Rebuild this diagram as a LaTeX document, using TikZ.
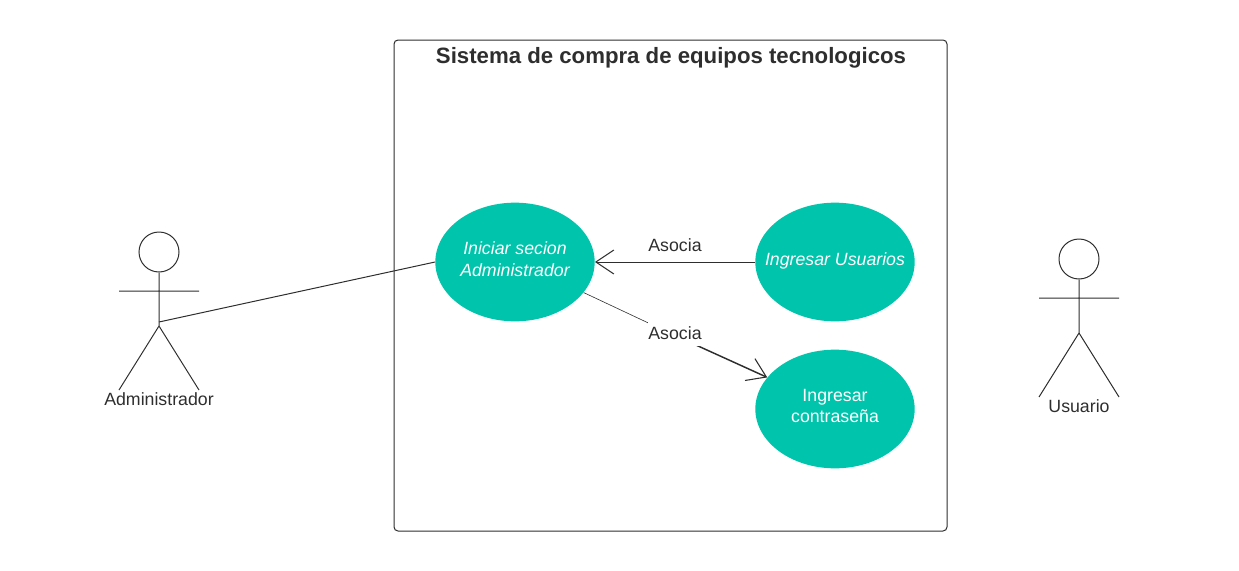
\documentclass[tikz,border=0pt]{standalone}
\usepackage{fontspec}
\setmainfont{Liberation Sans}
\usetikzlibrary{shapes.geometric,arrows.meta}
\definecolor{teal1}{HTML}{00C4AB}
\definecolor{ink}{HTML}{2E2E2E}
\tikzset{
  x=0.75pt,y=-0.75pt,
  usecase/.style={ellipse,fill=teal1,minimum width=119.5pt,minimum height=89pt,inner sep=-40pt,text=white,align=center,font=\fontsize{13.3pt}{16.1pt}\selectfont},
  labeltext/.style={text=ink,inner sep=1pt,font=\fontsize{13.3pt}{15pt}\selectfont},
  boxedlabel/.style={labeltext,fill=white,minimum height=19.5pt,inner sep=0pt,text height=9.5pt,text depth=0pt},
  actorline/.style={draw=ink,line width=0.75pt},
  head/.style={circle,draw=ink,line width=0.75pt,minimum size=30pt,inner sep=0pt},
  conn/.style={draw=ink,line width=0.75pt},
  openarrow/.style={-{Straight Barb[length=13.5pt,width=18pt,line width=0.8pt]}},
}
\begin{document}
\begin{tikzpicture}
\useasboundingbox (0,0) rectangle (1239,571);
% system frame
\node[draw=ink,line width=0.75pt,rounded corners=3pt,minimum width=414.75pt,minimum height=368.25pt,inner sep=0pt] (frame) at (670.5,285.5) {};
\node[text=ink,inner sep=0pt,font=\bfseries\fontsize{16.65pt}{20pt}\selectfont] (title) at (671,58) {Sistema de compra de equipos tecnologicos};
% use cases
\node[usecase] (login) at (515,262) {\itshape Iniciar secion\\\itshape Administrador\\[-11.6pt]\mbox{}};
\node[usecase] (users) at (835,262) {\itshape Ingresar Usuarios\\[-11.6pt]\mbox{}};
\node[usecase] (pass) at (835,409) {Ingresar\\contraseña\\[-11.6pt]\mbox{}};
% actor: Administrador
\node[head] (h1) at (159,252) {};
\coordinate (hip1) at (159,326);
\coordinate (neck1) at (159,322);
\coordinate (al1) at (119,291);
\coordinate (ar1) at (199,291);
\coordinate (ll1) at (119,390);
\coordinate (lr1) at (199,390);
\draw[actorline] (h1) -- (hip1) (al1) -- (ar1) (ll1) -- (hip1) -- (lr1);
\node[labeltext] (adm) at (159,399) {Administrador};
% actor: Usuario
\node[head] (h2) at (1079,259) {};
\coordinate (hip2) at (1079,333);
\coordinate (al2) at (1039,298);
\coordinate (ar2) at (1119,298);
\coordinate (ll2) at (1039,397);
\coordinate (lr2) at (1119,397);
\draw[actorline] (h2) -- (hip2) (al2) -- (ar2) (ll2) -- (hip2) -- (lr2);
\node[labeltext] (usr) at (1079,406) {Usuario};
% connectors
\draw[conn] (neck1) -- (login.west);
\draw[conn,openarrow] (users.west) -- (login.east);
\node[labeltext] (as1) at (675,245) {Asocia};
\coordinate (mid) at (675,335.5);
\draw[draw=ink,line width=0.45pt] (login.-24.5) -- (mid);
\draw[conn,line width=1.1pt,openarrow] (mid) -- (pass.155.4);
\node[boxedlabel] (as2) at (675,333) {Asocia};
\end{tikzpicture}
\end{document}
